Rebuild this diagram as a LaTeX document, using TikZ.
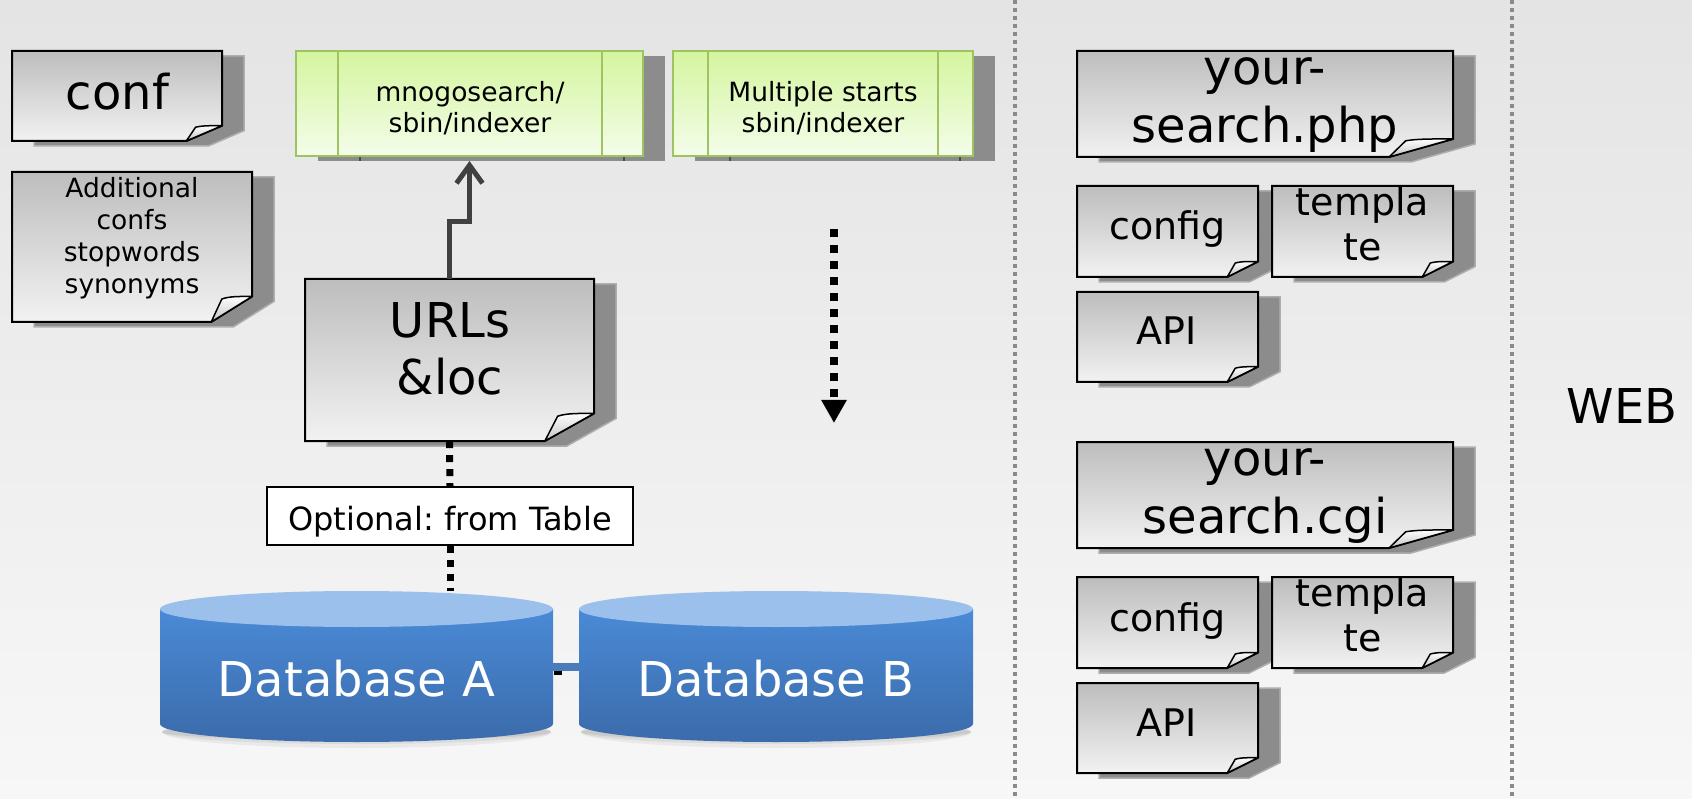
\documentclass[tikz,border=0pt]{standalone}
\usepackage{fontspec}
\setmainfont{DejaVu Sans}
\usetikzlibrary{arrows.meta,calc}
\frenchspacing

\definecolor{bgtop}{HTML}{E4E4E4}
\definecolor{bgbot}{HTML}{F7F7F7}
\definecolor{shadowfill}{HTML}{8C8C8C}
\definecolor{shadowedge}{HTML}{AEAEAE}
\definecolor{notetop}{HTML}{BDBDBD}
\definecolor{notebot}{HTML}{F2F2F2}
\definecolor{flaptop}{HTML}{FFFFFF}
\definecolor{flapbot}{HTML}{C4C4C4}
\definecolor{greentop}{HTML}{D4F59E}
\definecolor{greenbot}{HTML}{F4FDEA}
\definecolor{greenedge}{HTML}{9DC460}
\definecolor{dbcap}{HTML}{9BC0EC}
\definecolor{dbtop}{HTML}{4A8AD6}
\definecolor{dbbot}{HTML}{3B6BAB}
\definecolor{dblinkc}{HTML}{4A7CBC}
\definecolor{arrowgray}{HTML}{404040}
\definecolor{divider}{HTML}{8A8A8A}

\tikzset{
  noteshadow/.style={fill=shadowfill, draw=shadowedge, line width=1.5},
  notebody/.style={top color=notetop, bottom color=notebot, draw=black, line width=2, line join=miter},
  noteflap/.style={top color=flaptop, bottom color=flapbot, draw=black, line width=1.5, line join=round},
  boxnode/.style={rectangle, draw=none, inner sep=0},
  bigtext/.style={font=\fontsize{48}{58.5}\selectfont, align=center, inner sep=0},
  urltext/.style={font=\fontsize{48}{57}\selectfont, align=center, inner sep=0},
  midtext/.style={font=\fontsize{38}{45}\selectfont, align=center, inner sep=0},
  smalltext/.style={font=\fontsize{26.5}{32}\selectfont, align=center, inner sep=0},
  idxbox/.style={rectangle, inner sep=0, top color=greentop, bottom color=greenbot,
    draw=greenedge, line width=2},
  idxtext/.style={font=\fontsize{26.5}{31}\selectfont, align=center, inner sep=0},
  idxline/.style={draw=greenedge, line width=2},
  optbox/.style={rectangle, draw=black, fill=white, line width=2, inner sep=0,
    minimum width=366, minimum height=58, text height=43, text depth=15,
    font=\fontsize{32}{38}\selectfont},
  dbtext/.style={text=white, font=\fontsize{48}{56}\selectfont, inner sep=0},
  dotline/.style={draw=black, line width=7, dash pattern=on 7pt off 7pt},
  flowline/.style={draw=black, line width=8, dash pattern=on 8pt off 8pt,
    -{Triangle[length=23pt,width=24pt]}},
  feedline/.style={draw=arrowgray, line width=5, line join=miter,
    -{Straight Barb[length=18pt,width=26pt]}},
  dblink/.style={draw=dblinkc, line width=8},
  dividerline/.style={draw=divider, line width=4, dash pattern=on 4pt off 4pt},
}

% A paper note with a curled bottom-right corner and a drop shadow.
% #1 name, #2 left, #3 top, #4 right, #5 bottom
\newcommand\notepage[5]{%
  \pgfmathsetmacro\nfx{0.17*(#4-#2)}%
  \pgfmathsetmacro\nfy{0.17*(#5-#3)}%
  \filldraw[noteshadow] ({#2+22},{#3+5}) -- ({#4+22},{#3+5}) -- ({#4+22},{#5+5-\nfy})
    -- ({#4+22-\nfx},{#5+5}) -- ({#2+22},{#5+5}) -- cycle;
  \path[notebody] (#2,#3) -- (#4,#3) -- (#4,{#5-\nfy}) -- ({#4-\nfx},#5) -- (#2,#5) -- cycle;
  \path[noteflap] ({#4-\nfx},#5) -- ({#4-0.74*\nfx},{#5-0.9*\nfy})
    .. controls ({#4-0.55*\nfx},{#5-1.02*\nfy}) and ({#4-0.25*\nfx},{#5-1.0*\nfy}) .. ({#4},{#5-\nfy}) -- cycle;
  \node[boxnode, minimum width={#4-#2}, minimum height={#5-#3}] (#1) at ({(#2+#4)/2},{(#3+#5)/2}) {};
}

% A database cylinder. #1 name, #2 left, #3 right, #4 top-ellipse centre y, #5 bottom-ellipse centre y
\newcommand\database[5]{%
  \pgfmathsetmacro\dbcx{(#2+#3)/2}%
  \pgfmathsetmacro\dbrx{(#3-#2)/2}%
  \foreach \s/\o in {16/0.05,12/0.06,8/0.07}
    \fill[black, opacity=\o] (\dbcx,{#5+8}) ellipse [x radius={\dbrx-2}, y radius=\s];
  \shade[top color=dbtop, bottom color=dbbot]
    (#2,#4) -- (#2,#5) arc[start angle=180, end angle=0, x radius=\dbrx, y radius=18]
    -- (#3,#4) -- cycle;
  \fill[dbcap] (\dbcx,#4) ellipse [x radius=\dbrx, y radius=18];
  \node[boxnode, minimum width={#3-#2}, minimum height={#5-#4+36}] (#1) at (\dbcx,{(#4+#5)/2}) {};
}

\begin{document}
\begin{tikzpicture}[x=1pt, y=-1pt]
  \useasboundingbox (0,0) rectangle (1692,799);
  \shade[top color=bgtop, bottom color=bgbot] (0,0) rectangle (1692,799);

  % column dividers
  \coordinate (divAtop) at (1015,0);
  \coordinate (divAbot) at (1015,799);
  \coordinate (divBtop) at (1512,0);
  \coordinate (divBbot) at (1512,799);
  \draw[dividerline] (divAtop) -- (divAbot);
  \draw[dividerline] (divBtop) -- (divBbot);

  % configuration notes
  \notepage{conf}{12}{51}{222}{141}
  \node[bigtext, anchor=base] (conf-label) at (117.5,110) {conf};
  \notepage{addl}{12}{172}{252}{322}
  \node[smalltext] (addl-label) at (132,237.7) {Additional\\confs\\stopwords\\synonyms};

  % indexer processes
  \fill[shadowfill] (318,56) rectangle (665,161);
  \draw[black!70, line width=1.5] (360,156) -- (360,161) (624,156) -- (624,161);
  \node[idxbox, minimum width=347, minimum height=105] (idx) at (469.5,103.5) {};
  \draw[idxline] (338,51) -- (338,156) (602,51) -- (602,156);
  \node[idxtext] (idx-label) at (470,108) {mnogosearch/\\sbin/indexer};

  \fill[shadowfill] (695,56) rectangle (995,161);
  \draw[black!70, line width=1.5] (730,156) -- (730,161) (960,156) -- (960,161);
  \node[idxbox, minimum width=300, minimum height=105] (idxmulti) at (823,103.5) {};
  \draw[idxline] (708,51) -- (708,156) (938,51) -- (938,156);
  \node[idxtext] (idxmulti-label) at (823,108) {Multiple starts\\sbin/indexer};

  % start URLs
  \notepage{urls}{305}{279}{594}{441}
  \node[urltext] (urls-label) at (450,349) {URLs\\\&loc};

  % optional table source
  \node[optbox] (opt) at (450,516) {Optional: from Table};

  % databases
  \database{dbA}{160}{553}{609}{724}
  \node[dbtext, anchor=base] (dbA-label) at (356.5,696) {Database A};
  \database{dbB}{579}{973}{609}{724}
  \node[dbtext, anchor=base] (dbB-label) at (776,696) {Database B};

  % connectors
  \draw[feedline] (urls.north) |- ($(idx.south)+(0,65)$) -- ($(idx.south)+(0,4)$);
  \draw[dotline] (urls.south) -- (opt.north);
  \draw[dotline] (opt.south) -- (opt.south |- dbA.north);
  \draw[dblink] (dbA.east) -- (dbB.west);
  \fill[black] (554,671) rectangle (562,675);

  \coordinate (flowtop) at (834,229);
  \coordinate (flowend) at (834,423);
  \draw[flowline] (flowtop) -- (flowend);

  % PHP front end
  \notepage{php}{1077}{51}{1453}{157}
  \node[bigtext] (php-label) at (1265,105.1) {your-\\search.php};
  \notepage{cfgA}{1077}{186}{1258}{277}
  \node[midtext, anchor=base] (cfgA-label) at (1167.5,240) {config};
  \notepage{tplA}{1272}{186}{1453}{277}
  \node[midtext] (tplA-label) at (1362.5,224) {templa\\te};
  \notepage{apiA}{1077}{292}{1258}{382}
  \node[midtext, anchor=base] (apiA-label) at (1167,345) {API};

  % CGI front end
  \notepage{cgi}{1077}{442}{1453}{548}
  \node[bigtext] (cgi-label) at (1265,496.1) {your-\\search.cgi};
  \notepage{cfgB}{1077}{577}{1258}{668}
  \node[midtext, anchor=base] (cfgB-label) at (1167.5,631) {config};
  \notepage{tplB}{1272}{577}{1453}{668}
  \node[midtext] (tplB-label) at (1362.5,615) {templa\\te};
  \notepage{apiB}{1077}{683}{1258}{773}
  \node[midtext, anchor=base] (apiB-label) at (1167,736) {API};

  \node[bigtext, anchor=base] (web) at (1622,424) {WEB};
\end{tikzpicture}
\end{document}
